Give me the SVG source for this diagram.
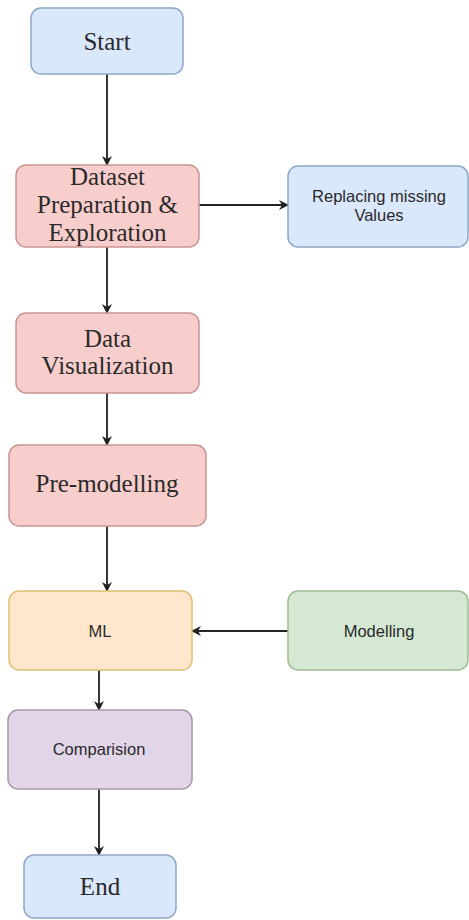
<svg xmlns="http://www.w3.org/2000/svg" width="469" height="920" viewBox="0 0 469 920">
<defs>
<style>
.box{stroke-width:1.5}
.blue{fill:#dae8fc;stroke:#8fa6c6}
.red{fill:#f8cecc;stroke:#c99490}
.orange{fill:#ffe6cc;stroke:#e0c070}
.green{fill:#d5e8d4;stroke:#9ebd92}
.purple{fill:#e1d5e7;stroke:#a898ac}
.serif{font-family:"Liberation Serif","Times New Roman",serif;font-size:25px;fill:#2a2a2a;text-anchor:middle}
.sans{font-family:"Liberation Sans",Arial,sans-serif;font-size:16.5px;fill:#2a2a2a;text-anchor:middle}
.conn{stroke:#222;stroke-width:1.8;fill:none;marker-end:url(#arr)}
</style>
<marker id="arr" viewBox="0 0 10 10" refX="9" refY="5" markerWidth="10" markerHeight="10" markerUnits="userSpaceOnUse" orient="auto">
<path d="M0,0 L10,5 L0,10 L3,5 Z" fill="#222"/>
</marker>
</defs>
<rect width="469" height="920" fill="#ffffff"/>
<g id="connectors">
<line class="conn" x1="107" y1="74" x2="107" y2="165"/>
<line class="conn" x1="199" y1="205" x2="288" y2="205"/>
<line class="conn" x1="107" y1="247" x2="107" y2="313"/>
<line class="conn" x1="107" y1="393" x2="107" y2="445"/>
<line class="conn" x1="107" y1="526" x2="107" y2="591"/>
<line class="conn" x1="288" y1="631" x2="192" y2="631"/>
<line class="conn" x1="99" y1="670" x2="99" y2="710"/>
<line class="conn" x1="99" y1="789" x2="99" y2="855"/>
</g>
<g id="start">
<rect class="box blue" x="31" y="8" width="152" height="66" rx="10"/>
<text class="serif" x="107" y="50">Start</text>
</g>
<g id="dataset">
<rect class="box red" x="16" y="165" width="183" height="82" rx="10"/>
<text class="serif" x="107.5" y="185">Dataset</text>
<text class="serif" x="107.5" y="213">Preparation &amp;</text>
<text class="serif" x="107.5" y="241">Exploration</text>
</g>
<g id="replacing">
<rect class="box blue" x="288" y="166" width="180" height="81" rx="10"/>
<text class="sans" x="379" y="202">Replacing missing</text>
<text class="sans" x="379" y="221">Values</text>
</g>
<g id="dataviz">
<rect class="box red" x="16" y="313" width="183" height="80" rx="10"/>
<text class="serif" x="107.5" y="347">Data</text>
<text class="serif" x="107.5" y="374">Visualization</text>
</g>
<g id="premodelling">
<rect class="box red" x="9" y="445" width="197" height="81" rx="10"/>
<text class="serif" x="107" y="492">Pre-modelling</text>
</g>
<g id="ml">
<rect class="box orange" x="9" y="591" width="183" height="79" rx="10"/>
<text class="sans" x="100" y="637">ML</text>
</g>
<g id="modelling">
<rect class="box green" x="288" y="591" width="180" height="79" rx="10"/>
<text class="sans" x="379" y="637">Modelling</text>
</g>
<g id="comparision">
<rect class="box purple" x="8" y="710" width="184" height="79" rx="10"/>
<text class="sans" x="99" y="755">Comparision</text>
</g>
<g id="end">
<rect class="box blue" x="24" y="855" width="152" height="63" rx="10"/>
<text class="serif" x="100" y="895">End</text>
</g>
</svg>
